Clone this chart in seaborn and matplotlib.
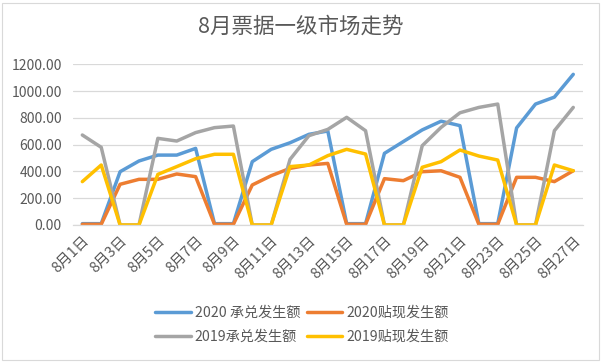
import numpy as np
import pandas as pd
import matplotlib
matplotlib.use("Agg")
import matplotlib.pyplot as plt
import seaborn as sns
from matplotlib.patches import Rectangle

# ---- data ----
days = [f"8月{d}日" for d in range(1, 28)]
acc_2020 = [10, 10, 398, 478, 522, 522, 572, 10, 10, 473, 565, 614, 677, 702,
            10, 10, 535, 623, 710, 775, 742, 10, 10, 725, 903, 955, 1125]
disc_2020 = [5, 5, 304, 341, 341, 381, 361, 5, 5, 299, 368, 423, 448, 460,
             5, 5, 346, 331, 398, 405, 356, 5, 5, 356, 356, 324, 405]
acc_2019 = [672, 580, 0, 0, 647, 627, 690, 727, 739, 0, 0, 490, 667, 714,
            804, 704, 0, 0, 592, 729, 838, 878, 903, 0, 0, 704, 878]
disc_2019 = [324, 448, 0, 0, 378, 436, 495, 528, 528, 0, 0, 436, 448, 518,
             565, 530, 0, 0, 431, 473, 560, 515, 485, 0, 0, 448, 405]

series_names = ["2020 承兑发生额", "2020贴现发生额", "2019承兑发生额", "2019贴现发生额"]
colors = ["#5B9BD5", "#ED7D31", "#A5A5A5", "#FFC000"]
yticks = [0, 200, 400, 600, 800, 1000, 1200]

rows = []
for name, vals in zip(series_names, [acc_2020, disc_2020, acc_2019, disc_2019]):
    for i, v in enumerate(vals):
        rows.append({"idx": i, "value": v, "series": name})
df = pd.DataFrame(rows)

sns.set_theme(style="white")
plt.rcParams["font.family"] = ["Noto Sans CJK SC", "DejaVu Sans"]

W, H = 602, 362
fig = plt.figure(figsize=(W / 100, H / 100), dpi=100)
fig.patches.append(Rectangle((2 / W, 2 / H), 1 - 5 / W, 1 - 5 / H, transform=fig.transFigure,
                             fill=False, edgecolor="#d9d9d9", linewidth=0.8))

ax = fig.add_axes([72.9 / W, 1 - 225 / H, 509.8 / W, (225 - 64.3) / H])
sns.lineplot(data=df, x="idx", y="value", hue="series", hue_order=series_names,
             palette=colors, linewidth=2.5, ax=ax, legend=True)

ax.set_xlim(-0.5, len(days) - 0.5)
ax.set_ylim(0, 1200)
ax.set_yticks(yticks)
ax.set_yticklabels([f"{v:.2f}" for v in yticks], fontsize=10, color="#595959")
ax.yaxis.grid(True, color="#d9d9d9", linewidth=0.9)
ax.set_axisbelow(True)
ax.tick_params(axis="y", length=0, pad=8)

ax.set_xticks(np.arange(-0.5, len(days), 2))
ax.set_xticklabels([])
ax.tick_params(axis="x", which="major", length=5, color="#d9d9d9", width=0.9)
ax.set_xticks(np.arange(0, len(days), 2), minor=True)
ax.set_xticklabels(days[::2], minor=True, rotation=45, ha="right",
                   rotation_mode="anchor", fontsize=10.5, color="#595959")
ax.tick_params(axis="x", which="minor", length=0, pad=6)

for s in ["top", "right", "left"]:
    ax.spines[s].set_visible(False)
ax.spines["bottom"].set_color("#d9d9d9")
ax.spines["bottom"].set_linewidth(0.9)
ax.set_xlabel("")
ax.set_ylabel("")

handles, labels = ax.get_legend_handles_labels()
ax.get_legend().remove()
order = [0, 2, 1, 3]
leg = fig.legend([handles[i] for i in order], [labels[i] for i in order],
                 loc="center", bbox_to_anchor=(302 / W, 1 - 325 / H), ncol=2,
                 frameon=False, fontsize=10.2, handlelength=2.5, handletextpad=0.3,
                 columnspacing=0.45, labelspacing=0.7, labelcolor="#595959")
for line in leg.get_lines():
    line.set_linewidth(2.5)

fig.text(0.5, 1 - 27 / H, "8月票据一级市场走势", ha="center", va="center",
         fontsize=15.5, color="#595959")

fig.savefig("out.png", dpi=100)
